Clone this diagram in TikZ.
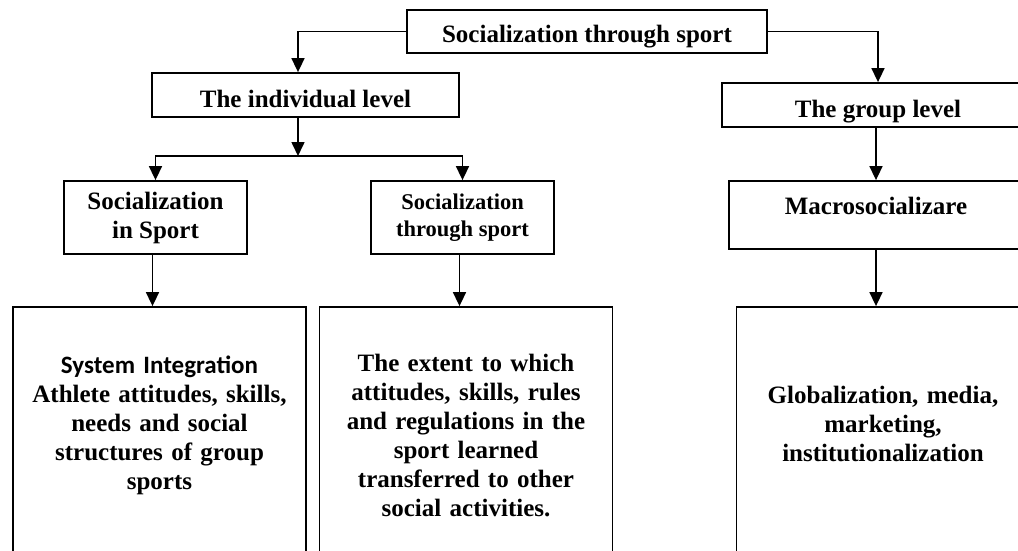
\documentclass[tikz,border=0pt]{standalone}
\usepackage{fontspec}
\setmainfont{Liberation Serif}
\newfontfamily\calibrifont{Carlito}
\usetikzlibrary{arrows.meta,positioning}

\begin{document}
\begin{tikzpicture}[x=1pt, y=-1pt,
    box/.style={draw, line width=1.8pt, inner sep=3pt, font=\fontsize{25}{29}\selectfont\bfseries},
    tall/.style={box, minimum width=293pt, minimum height=253pt, text width=280pt, align=center, text height=17pt},
    arr/.style={line width=1.6pt, -{Triangle[length=14pt,width=13pt]}}]
  \clip (0,0) rectangle (1018,550);
  % levels
  \node[box, minimum width=360pt, minimum height=43pt, text height=26pt, text depth=5pt] (top) at (587,31.5) {Socialization through sport};
  \node[box, minimum width=307pt, minimum height=44pt, text height=30pt, text depth=5pt] (ind) at (305.5,95) {The individual level};
  \node[box, minimum width=312pt, minimum height=44pt, text height=29pt, text depth=5pt] (grp) at (878,105) {The group level};
  % second row
  \node[box, minimum width=183pt, minimum height=73pt, align=center] (sin) at (155.5,217.5) {Socialization\\in Sport};
  \node[box, minimum width=183pt, minimum height=73pt, align=center, font=\fontsize{22.5}{27}\selectfont\bfseries] (sth) at (462.5,217.5) {Socialization\\through sport};
  \node[box, minimum width=294pt, minimum height=68pt, text height=17pt, text depth=19pt] (mac) at (876,215) {Macrosocializare};
  % bottom boxes, cut by the page edge
  \node[tall, text depth=138pt] (intg) at (159.5,433.5) {{\calibrifont System Integration}\\Athlete attitudes, skills,\\needs and social\\structures of group\\sports};
  \node[tall, text depth=142pt] (trans) at (466,433.5) {The extent to which\\attitudes, skills, rules\\and regulations in the\\sport learned\\transferred to other\\social activities.};
  \node[tall, text depth=78pt] (glob) at (883,433.5) {Globalization, media,\\marketing,\\institutionalization};
  % connectors
  \coordinate (fork) at (298,156);
  \draw[arr] (top.west) -| (ind.north -| fork);
  \draw[arr] (top.east) -| (grp.north);
  \draw[arr] (ind.south -| fork) -- (fork);
  \foreach \n in {sin,sth}
    \draw[arr] (fork) -| (\n.north);
  \draw[arr] (mac.north |- grp.south) -- (mac.north);
  \draw[arr] ([xshift=-3pt]sin.south) -- ([xshift=-3pt]sin.south |- intg.north);
  \draw[arr] ([xshift=-3pt]sth.south) -- ([xshift=-3pt]sth.south |- trans.north);
  \draw[arr] (mac.south) -- (mac.south |- glob.north);
\end{tikzpicture}
\end{document}
